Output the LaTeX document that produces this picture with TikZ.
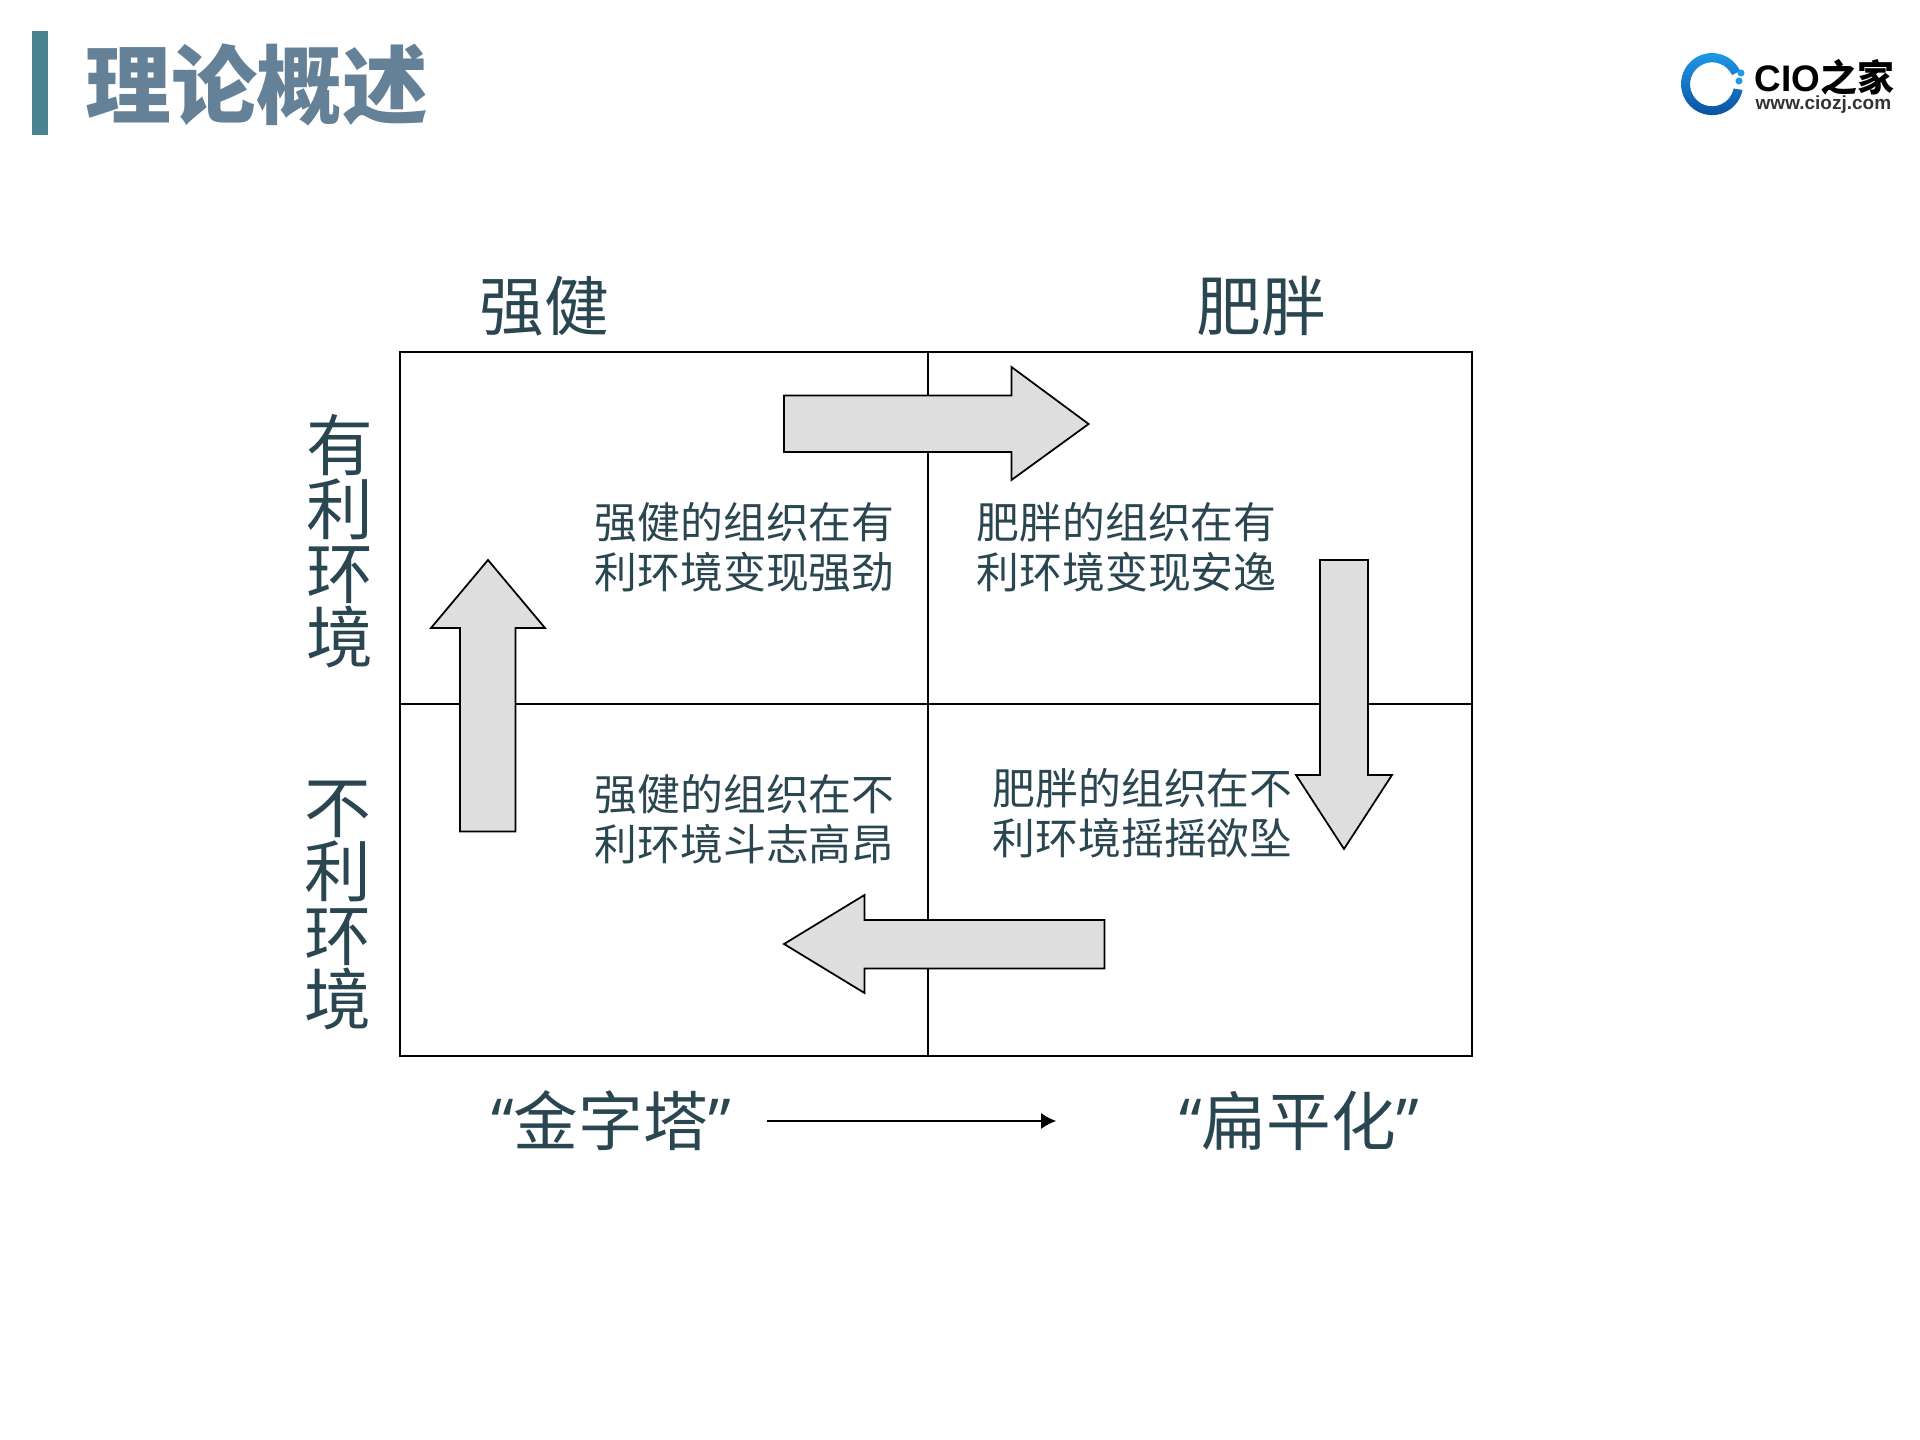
\documentclass[tikz,border=0pt]{standalone}
\usepackage{fontspec}
\setmainfont{Liberation Sans}
\newfontfamily\cjk{Noto Sans CJK SC}
\newfontfamily\quotefont{Open Sans}
\usetikzlibrary{arrows.meta,positioning,calc}
\definecolor{inktext}{HTML}{2A4650}
\definecolor{titletext}{HTML}{648197}
\definecolor{titlebar}{HTML}{4A8390}
\definecolor{arrowfill}{HTML}{DEDEDE}
\definecolor{logotop}{HTML}{1E9BE8}
\definecolor{logobottom}{HTML}{0C4EA0}
\tikzstyle{line} = [draw, line width=0.5pt]
\tikzstyle{bigarrow} = [draw, line width=0.5pt, fill=arrowfill]
\tikzset{>=latex}
\tikzset{
  head/.style={inner sep=0pt, text=inktext, font=\cjk\fontsize{18.4}{22}\selectfont},
  side/.style={head, align=center, font=\cjk\fontsize{19}{18.2}\selectfont},
  cell/.style={inner sep=0pt, text=inktext, align=left, font=\cjk\fontsize{12.18}{14.2}\selectfont},
  logodot/.style={circle, fill=logotop, inner sep=0pt, minimum size=2pt},
}

\begin{document}
\begin{tikzpicture}[x=0.01cm,y=-0.01cm]
      \useasboundingbox (0,0) rectangle (1920,1440);
      \fill [titlebar] (32,31) rectangle (48,135);
      \node [inner sep=0pt,text=titletext,font=\cjk\bfseries\fontsize{24.4}{28}\selectfont] (title) at (257,85) {理论概述};

      \shade [top color=logotop,bottom color=logobottom] (1742.5,90) arc (11:335:31) -- (1732,75) arc (335:11:22) -- cycle;
      \node [logodot] (logodota) at (1741,73) {};
      \node [logodot] (logodotb) at (1739,81) {};
      \node [inner sep=0pt,font=\bfseries\fontsize{10.5}{12}\selectfont,anchor=west] (logoname) at (1754,77) {CIO{\cjk 之家}};
      \node [inner sep=0pt,font=\bfseries\fontsize{5.4}{6}\selectfont,text=black!80,anchor=west] (logourl) at (1755,105) {www.ciozj.com};

      \path [line] (400,352) rectangle (1472,1056);
      \path [line] (928,352) -- (928,1056);
      \path [line] (400,704) -- (1472,704);

      \path [bigarrow] (784,395.5) -- (1011.5,395.5) -- (1011.5,367) -- (1088.6,424) -- (1011.5,480) -- (1011.5,452) -- (784,452) -- cycle;
      \path [bigarrow] (1320,560) -- (1368,560) -- (1368,775) -- (1392,775) -- (1344,849) -- (1296,775) -- (1320,775) -- cycle;
      \path [bigarrow] (1104.5,920) -- (864.5,920) -- (864.5,895) -- (784,944) -- (864.5,993) -- (864.5,968.6) -- (1104.5,968.6) -- cycle;
      \path [bigarrow] (460,831.5) -- (460,628) -- (431,628) -- (488,560) -- (545,628) -- (515.5,628) -- (515.5,831.5) -- cycle;

      \node [head] (strong) at (544,306) {强健};
      \node [head] (fat) at (1261,306) {肥胖};
      \node [side] (goodenv) at (340,541) {有\\利\\环\\境};
      \node [side] (badenv) at (338,906) {不\\利\\环\\境};

      \node [cell,anchor=west] (stronggood) at (594,547.5) {强健的组织在有\\利环境变现强劲};
      \node [cell,anchor=west] (fatgood) at (976,547.5) {肥胖的组织在有\\利环境变现安逸};
      \node [cell,anchor=west] (strongbad) at (594,819.5) {强健的组织在不\\利环境斗志高昂};
      \node [cell,anchor=west] (fatbad) at (992,813.5) {肥胖的组织在不\\利环境摇摇欲坠};

      \node [head] (pyramid) at (611,1121) {{\quotefont “}金字塔{\quotefont ”}};
      \node [head] (flat) at (1299,1121) {{\quotefont “}扁平化{\quotefont ”}};
      \draw [-{Latex[length=4.3pt,width=4.6pt]},line width=0.57pt,shorten <=10pt,shorten >=34.8pt] (pyramid) -- (flat);
    \end{tikzpicture}
\end{document}
